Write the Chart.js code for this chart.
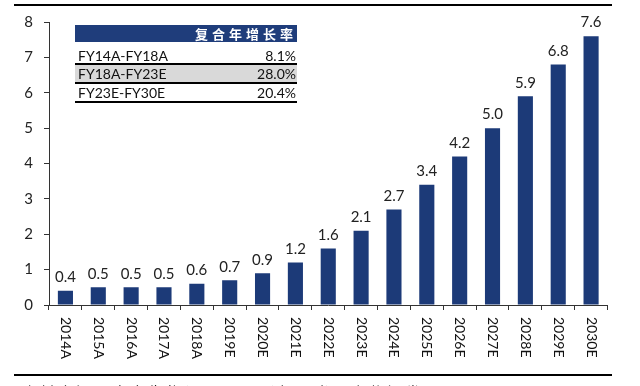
<!DOCTYPE html>
<html>
<head>
<meta charset="utf-8">
<script src="https://cdn.jsdelivr.net/npm/chart.js@4"></script>
<style>
  body { margin: 0; background: #fff; }
  #wrap { position: relative; width: 640px; height: 386px; overflow: hidden; font-family: Lato, "Noto Sans", sans-serif; }
  #myBarChart { position: absolute; left: 0; top: 0; }
  .rule { position: absolute; background: #000; }
  .cell { position: absolute; height: 17px; line-height: 17px; font-size: 14px; color: #111; white-space: nowrap; }
  #cagrHead { position: absolute; left: 75px; top: 25px; width: 222px; height: 17px; background: #1f3d7b;
    color: #fff; font: bold 13px "Noto Sans CJK SC", sans-serif; line-height: 17px; text-align: right;
    letter-spacing: 4px; box-sizing: border-box; padding-right: 0px; }
  #source { position: absolute; left: 22px; top: 381px; font: 15px "Noto Sans CJK SC", sans-serif; color: #222; white-space: nowrap; letter-spacing: 3px; }
</style>
</head>
<body>
<div id="wrap">
  <canvas id="myBarChart" width="640" height="386"></canvas>
  <div class="rule" style="left:14px;top:4px;width:598px;height:2px;"></div>
  <div id="cagrHead"></div>
  <div id="cagrRows"></div>
  <div class="rule" style="left:14px;top:374px;width:598px;height:2px;"></div>
  <div id="source">资料来源：康方生物(9926.HK)招股书，安信证券</div>
</div>
<script>
const categories = ["2014A", "2015A", "2016A", "2017A", "2018A", "2019E", "2020E", "2021E", "2022E",
  "2023E", "2024E", "2025E", "2026E", "2027E", "2028E", "2029E", "2030E"];
const values = [0.4, 0.5, 0.5, 0.5, 0.6, 0.7, 0.9, 1.2, 1.6, 2.1, 2.7, 3.4, 4.2, 5.0, 5.9, 6.8, 7.6];
const yTicks = [0, 1, 2, 3, 4, 5, 6, 7, 8];

const cagrTitle = "复合年增长率";
const cagrPeriods = ["FY14A-FY18A", "FY18A-FY23E", "FY23E-FY30E"];
const cagrValues = ["8.1%", "28.0%", "20.4%"];

// small table in the upper left
document.getElementById("cagrHead").textContent = cagrTitle;
const rowsBox = document.getElementById("cagrRows");
const rowCenters = [55, 73, 92];
const rowLines = [63, 82, 101];
let html = '<div style="position:absolute;left:75px;top:65px;width:222px;height:17px;background:#d9d9d9"></div>';
cagrPeriods.forEach(function (p, i) {
  const top = rowCenters[i] - 8.5;
  html += '<div class="cell" style="left:78px;top:' + top + 'px">' + p + '</div>';
  html += '<div class="cell" style="left:200px;width:96px;text-align:right;top:' + top + 'px">' + cagrValues[i] + '</div>';
  html += '<div class="rule" style="left:75px;top:' + rowLines[i] + 'px;width:222px;height:2px"></div>';
});
rowsBox.innerHTML = html;

const barLabels = {
  id: "barLabels",
  afterDatasetsDraw(chart) {
    const ctx = chart.ctx;
    const meta = chart.getDatasetMeta(0);
    ctx.save();
    ctx.fillStyle = "#222";
    ctx.font = "15px Lato";
    ctx.textAlign = "center";
    ctx.textBaseline = "bottom";
    meta.data.forEach(function (bar, i) {
      ctx.fillText(values[i].toFixed(1), bar.x, bar.y - 6);
    });
    ctx.restore();
  },
};

// x labels read top to bottom, so draw them ourselves
const xLabels = {
  id: "xLabels",
  afterDraw(chart) {
    const ctx = chart.ctx;
    const xScale = chart.scales.x;
    ctx.save();
    ctx.fillStyle = "#111";
    ctx.font = "14px Lato";
    ctx.textAlign = "left";
    ctx.textBaseline = "middle";
    categories.forEach(function (c, i) {
      ctx.save();
      ctx.translate(xScale.getPixelForValue(i), chart.chartArea.bottom + 12);
      ctx.rotate(Math.PI / 2);
      ctx.fillText(c, 0, 0);
      ctx.restore();
    });
    ctx.restore();
  },
};

const ctx = document.getElementById("myBarChart").getContext("2d");
const myBarChart = new Chart(ctx, {
  type: "bar",
  data: {
    labels: categories,
    datasets: [
      {
        data: values,
        backgroundColor: "#1c3a78",
        barPercentage: 0.46,
        categoryPercentage: 1,
      },
    ],
  },
  options: {
    responsive: false,
    animation: false,
    layout: { padding: { left: 0, right: 32.5, top: 22, bottom: 0 } },
    plugins: {
      legend: { display: false },
      tooltip: { enabled: false },
    },
    scales: {
      x: {
        grid: { drawOnChartArea: false, drawTicks: true, tickLength: 5, color: "#333" },
        border: { display: true, color: "#333", width: 1 },
        ticks: { color: "rgba(0,0,0,0)", autoSkip: false, minRotation: 90, maxRotation: 90 },
        afterFit: function (scale) {
          scale.height = 81;
        },
      },
      y: {
        min: 0,
        max: 8,
        afterBuildTicks: function (scale) {
          scale.ticks = yTicks.map(function (v) { return { value: v }; });
        },
        grid: { drawOnChartArea: false, drawTicks: true, tickLength: 5, color: "#333" },
        border: { display: true, color: "#333", width: 1 },
        ticks: { color: "#222", font: { family: "Lato", size: 15 }, padding: 11 },
        afterFit: function (scale) {
          scale.width = 49;
        },
      },
    },
  },
  plugins: [barLabels, xLabels],
});
</script>
</body>
</html>
